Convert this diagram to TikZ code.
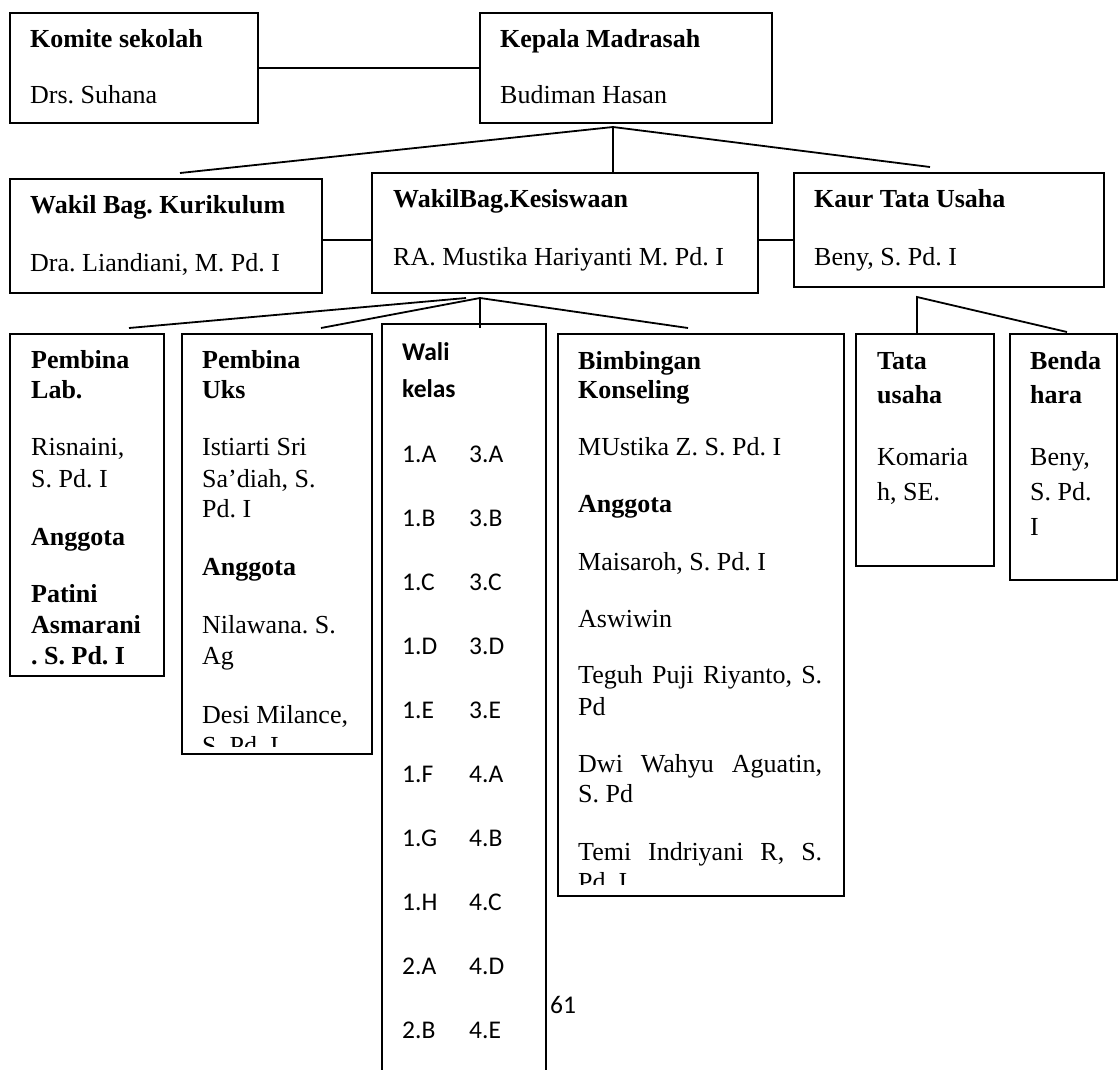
\documentclass[tikz,border=0pt]{standalone}
\usepackage{fontspec}
\setmainfont{Liberation Serif}
\newfontfamily\calfont{Carlito}
\frenchspacing
\newcommand\boxnode[5]{\node[orgbox, minimum width=#4pt, minimum height=#5pt] (#1) at (#2,#3) {};}
\newcommand\putline[4][]{\node[txt,#1] (#2) at (#3) {#4};}
\begin{document}
\frenchspacing
\begin{tikzpicture}[x=1pt,y=-1pt,
  orgbox/.style={draw, line width=2pt, anchor=north west, inner sep=0pt, fill=none},
  conn/.style={line width=1.8pt},
  txt/.style={inner sep=0pt, anchor=base west, font=\fontsize{26}{30}\selectfont},
  ctxt/.style={inner sep=0pt, anchor=base west, font=\calfont\fontsize{25.5}{30}\selectfont}]
\clip (0,0) rectangle (1118,1069);
\fill[white] (0,0) rectangle (1118,1069);

% boxes
\boxnode{komite}{9}{12}{248}{110}
\boxnode{kepala}{479}{12}{292}{110}
\boxnode{kurikulum}{9}{178}{312}{114}
\boxnode{kesiswaan}{371}{172}{386}{120}
\boxnode{kaur}{793}{172}{310}{114}
\boxnode{lab}{9}{333}{154}{342}
\boxnode{uks}{181}{333}{190}{420}
\boxnode{wali}{381}{323}{164}{780}
\boxnode{bimb}{557}{333}{286}{562}
\boxnode{tata}{855}{333}{138}{232}
\boxnode{benda}{1009}{333}{107}{246}

% connector points
\coordinate (kepA) at (613,127);
\coordinate (kurT) at (180,173);
\coordinate (kaurT) at (930,167);
\coordinate (kesA) at (480,298);
\coordinate (kesA2) at (466,298);
\coordinate (labT) at (129,328);
\coordinate (uksT) at (321,328);
\coordinate (waliT) at (480,328);
\coordinate (bkT) at (688,328);
\coordinate (kaurA) at (917,297);
\coordinate (bendaT) at (1067,332);

% connectors
\draw[conn] (komite.east) -- (kepala.west);
\draw[conn] (kurT) -- (kepA) -- (kaurT);
\draw[conn] (kepA) -- (kepA |- kesiswaan.north);
\draw[conn] (kurikulum.east |- 0,240) -- (kesiswaan.west |- 0,240);
\draw[conn] (kesiswaan.east |- 0,240) -- (kaur.west |- 0,240);
\draw[conn] (kesA2) -- (labT);
\draw[conn] (uksT) -- (kesA) -- (bkT);
\draw[conn] (kesA) -- (waliT);
\draw[conn] (kaurA |- tata.north) -- (kaurA) -- (bendaT);

% top row text
\putline{t1}{30,47}{\textbf{Komite sekolah}}
\putline{t2}{30,103}{Drs. Suhana}
\putline{t3}{500,47}{\textbf{Kepala Madrasah}}
\putline{t4}{500,103}{Budiman Hasan}
% second row
\putline{t5}{30,213}{\textbf{Wakil Bag. Kurikulum}}
\putline{t6}{30,271}{Dra. Liandiani, M. Pd. I}
\putline{t7}{393,207}{\textbf{WakilBag.Kesiswaan}}
\putline{t8}{393,265}{RA. Mustika Hariyanti M. Pd. I}
\putline{t9}{814,207}{\textbf{Kaur Tata Usaha}}
\putline{t10}{814,265}{Beny, S. Pd. I}

% Pembina Lab
\putline{l1}{31,368}{\textbf{Pembina}}
\putline{l2}{31,398}{\textbf{Lab.}}
\putline{l3}{31,455}{Risnaini,}
\putline{l4}{31,487}{S. Pd. I}
\putline{l5}{31,545}{\textbf{Anggota}}
\putline{l6}{31,602}{\textbf{Patini}}
\putline{l7}{31,633}{\textbf{Asmarani}}
\putline{l8}{31,664}{\textbf{. S. Pd. I}}

% Pembina Uks
\begin{scope}
\clip (181,333) rectangle (371,746);
\putline{u1}{202,368}{\textbf{Pembina}}
\putline{u2}{202,398}{\textbf{Uks}}
\putline{u3}{202,455}{Istiarti Sri}
\putline{u4}{202,487}{Sa’diah, S.}
\putline{u5}{202,517}{Pd. I}
\putline{u6}{202,575}{\textbf{Anggota}}
\putline{u7}{202,633}{Nilawana. S.}
\putline{u8}{202,664}{Ag}
\putline{u9}{202,723}{Desi Milance,}
\putline{u10}{202,754}{S. Pd. I}
\end{scope}

% Wali kelas
\putline[ctxt]{w1}{402,360}{\textbf{Wali}}
\putline[ctxt]{w2}{402,397}{\textbf{kelas}}
\foreach \a/\b [count=\i from 0] in {1.A/3.A,1.B/3.B,1.C/3.C,1.D/3.D,1.E/3.E,1.F/4.A,1.G/4.B,1.H/4.C,2.A/4.D,2.B/4.E}{
  \node[ctxt] (wa\i) at (402,462+64*\i) {\a};
  \node[ctxt] (wb\i) at (469,462+64*\i) {\b};
}

% Bimbingan Konseling
\begin{scope}
\clip (557,333) rectangle (843,884);
\putline{b1}{578,369}{\textbf{Bimbingan}}
\putline{b2}{578,398}{\textbf{Konseling}}
\putline{b3}{578,455}{MUstika Z. S. Pd. I}
\putline{b4}{578,512}{\textbf{Anggota}}
\putline{b5}{578,570}{Maisaroh, S. Pd. I}
\putline{b6}{578,627}{Aswiwin}
\putline{b7}{578,683}{\makebox[244pt][s]{Teguh Puji Riyanto, S.}}
\putline{b8}{578,715}{Pd}
\putline{b9}{578,772}{\makebox[244pt][s]{Dwi Wahyu Aguatin,}}
\putline{b10}{578,802}{S. Pd}
\putline{b11}{578,860}{\makebox[244pt][s]{Temi Indriyani R, S.}}
\putline{b12}{578,890}{Pd. I}
\end{scope}

% Tata usaha
\putline{ta1}{877,369}{\textbf{Tata}}
\putline{ta2}{877,403}{\textbf{usaha}}
\putline{ta3}{877,465}{Komaria}
\putline{ta4}{877,500}{h, SE.}

% Bendahara
\putline{be1}{1030,369}{\textbf{Benda}}
\putline{be2}{1030,403}{\textbf{hara}}
\putline{be3}{1030,465}{Beny,}
\putline{be4}{1030,500}{S. Pd.}
\putline{be5}{1030,535}{I}

% page number
\putline[ctxt]{pg}{550,1013}{61}
\end{tikzpicture}
\end{document}
